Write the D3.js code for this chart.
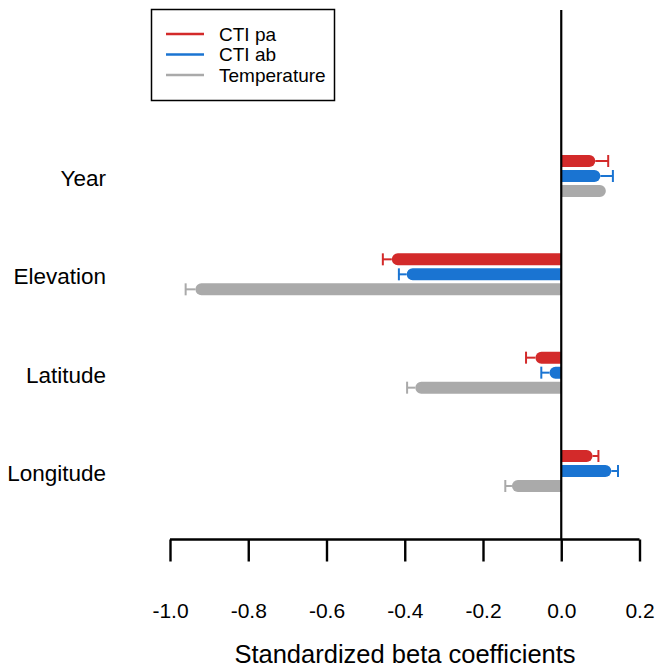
<!DOCTYPE html>
<html><head><meta charset="utf-8">
<script src="https://cdn.jsdelivr.net/npm/d3@7"></script>
<style>body{margin:0;background:#fff;} svg{display:block;}</style>
</head><body>
<script>
const categories = ["Year", "Elevation", "Latitude", "Longitude"];
const series = ["CTI pa", "CTI ab", "Temperature"];
const colors = ["#d32a2a", "#1a74d2", "#aaaaaa"];
// coefficient (bar tip) and error-bar end for each series, by category
const ctiPa      = [0.087, -0.433, -0.066, 0.080];
const ctiPaErr   = [0.120, -0.456, -0.090, 0.095];
const ctiAb      = [0.100, -0.395, -0.030, 0.128];
const ctiAbErr   = [0.132, -0.415, -0.051, 0.145];
const temp       = [0.114, -0.935, -0.373, -0.126];
const tempErr    = [null,  -0.960, -0.394, -0.143];
const xTicks = [-1.0, -0.8, -0.6, -0.4, -0.2, 0.0, 0.2];

const values = [ctiPa, ctiAb, temp];
const errs = [ctiPaErr, ctiAbErr, tempErr];

const W = 658, H = 669;
const svg = d3.select("body").append("svg").attr("width", W).attr("height", H);
const font = "'Liberation Sans', Arial, sans-serif";

const x = d3.scaleLinear().domain([-1.0, 0.2]).range([170, 639.5]);
const y = d3.scalePoint().domain(categories).range([176, 471]);
const sub = d3.scalePoint().domain(series).range([-15, 15]);
const barH = 12;

// bars
series.forEach((s, si) => {
  categories.forEach((c, ci) => {
    const v = values[si][ci];
    const cy = y(c) + sub(s);
    const x0 = x(0), x1 = x(v);
    const r = barH / 2;
    const dir = x1 >= x0 ? 1 : -1;
    const xr = x1 - dir * r;
    const p = d3.path();
    p.moveTo(x0, cy - r);
    p.lineTo(xr, cy - r);
    p.arc(xr, cy, r, -Math.PI / 2, Math.PI / 2, dir < 0);
    p.lineTo(x0, cy + r);
    p.closePath();
    svg.append("path").attr("d", p.toString()).attr("fill", colors[si]);
    const e = errs[si][ci];
    if (e !== null) {
      svg.append("line").attr("x1", x1).attr("x2", x(e)).attr("y1", cy).attr("y2", cy)
        .attr("stroke", colors[si]).attr("stroke-width", 2);
      svg.append("line").attr("x1", x(e)).attr("x2", x(e)).attr("y1", cy - 6).attr("y2", cy + 6)
        .attr("stroke", colors[si]).attr("stroke-width", 2);
    }
  });
});

// zero line
svg.append("line").attr("x1", x(0)).attr("x2", x(0)).attr("y1", 10).attr("y2", 539.5)
  .attr("stroke", "#000").attr("stroke-width", 2.2);

// x axis
const axisG = svg.append("g").attr("transform", "translate(0,539.5)");
const ax = d3.axisBottom(x).tickValues(xTicks).tickSize(22).tickPadding(42).tickFormat(d3.format(".1f"));
axisG.call(ax);
axisG.select(".domain").attr("d", `M${x(-1.0)},0H${x(0.2)}`).attr("stroke", "#000").attr("stroke-width", 2.4);
axisG.selectAll(".tick line").attr("stroke", "#000").attr("stroke-width", 2.4);
axisG.selectAll(".tick text").attr("font-family", font).attr("font-size", 21).attr("fill", "#000")
  .text(d => d3.format(".1f")(d).replace("−", "-"));

svg.append("text").attr("x", 405).attr("y", 663).attr("text-anchor", "middle")
  .attr("font-family", font).attr("font-size", 25.5).attr("fill", "#000")
  .text("Standardized beta coefficients");

// category labels
svg.selectAll("text.cat").data(categories).join("text").attr("class", "cat")
  .attr("x", 106).attr("y", d => y(d) + 10).attr("text-anchor", "end")
  .attr("font-family", font).attr("font-size", 22.5).attr("fill", "#000").text(d => d);

// legend
svg.append("rect").attr("x", 151.5).attr("y", 9.5).attr("width", 183).attr("height", 91)
  .attr("fill", "#fff").attr("stroke", "#000").attr("stroke-width", 1.5);
series.forEach((s, si) => {
  const ly = 34 + si * 20.5;
  svg.append("line").attr("x1", 166).attr("x2", 204).attr("y1", ly).attr("y2", ly)
    .attr("stroke", colors[si]).attr("stroke-width", 2.5);
  svg.append("text").attr("x", 219).attr("y", ly + 6.5).attr("font-family", font)
    .attr("font-size", 19).attr("fill", "#000").text(s);
});
</script>
</body></html>
